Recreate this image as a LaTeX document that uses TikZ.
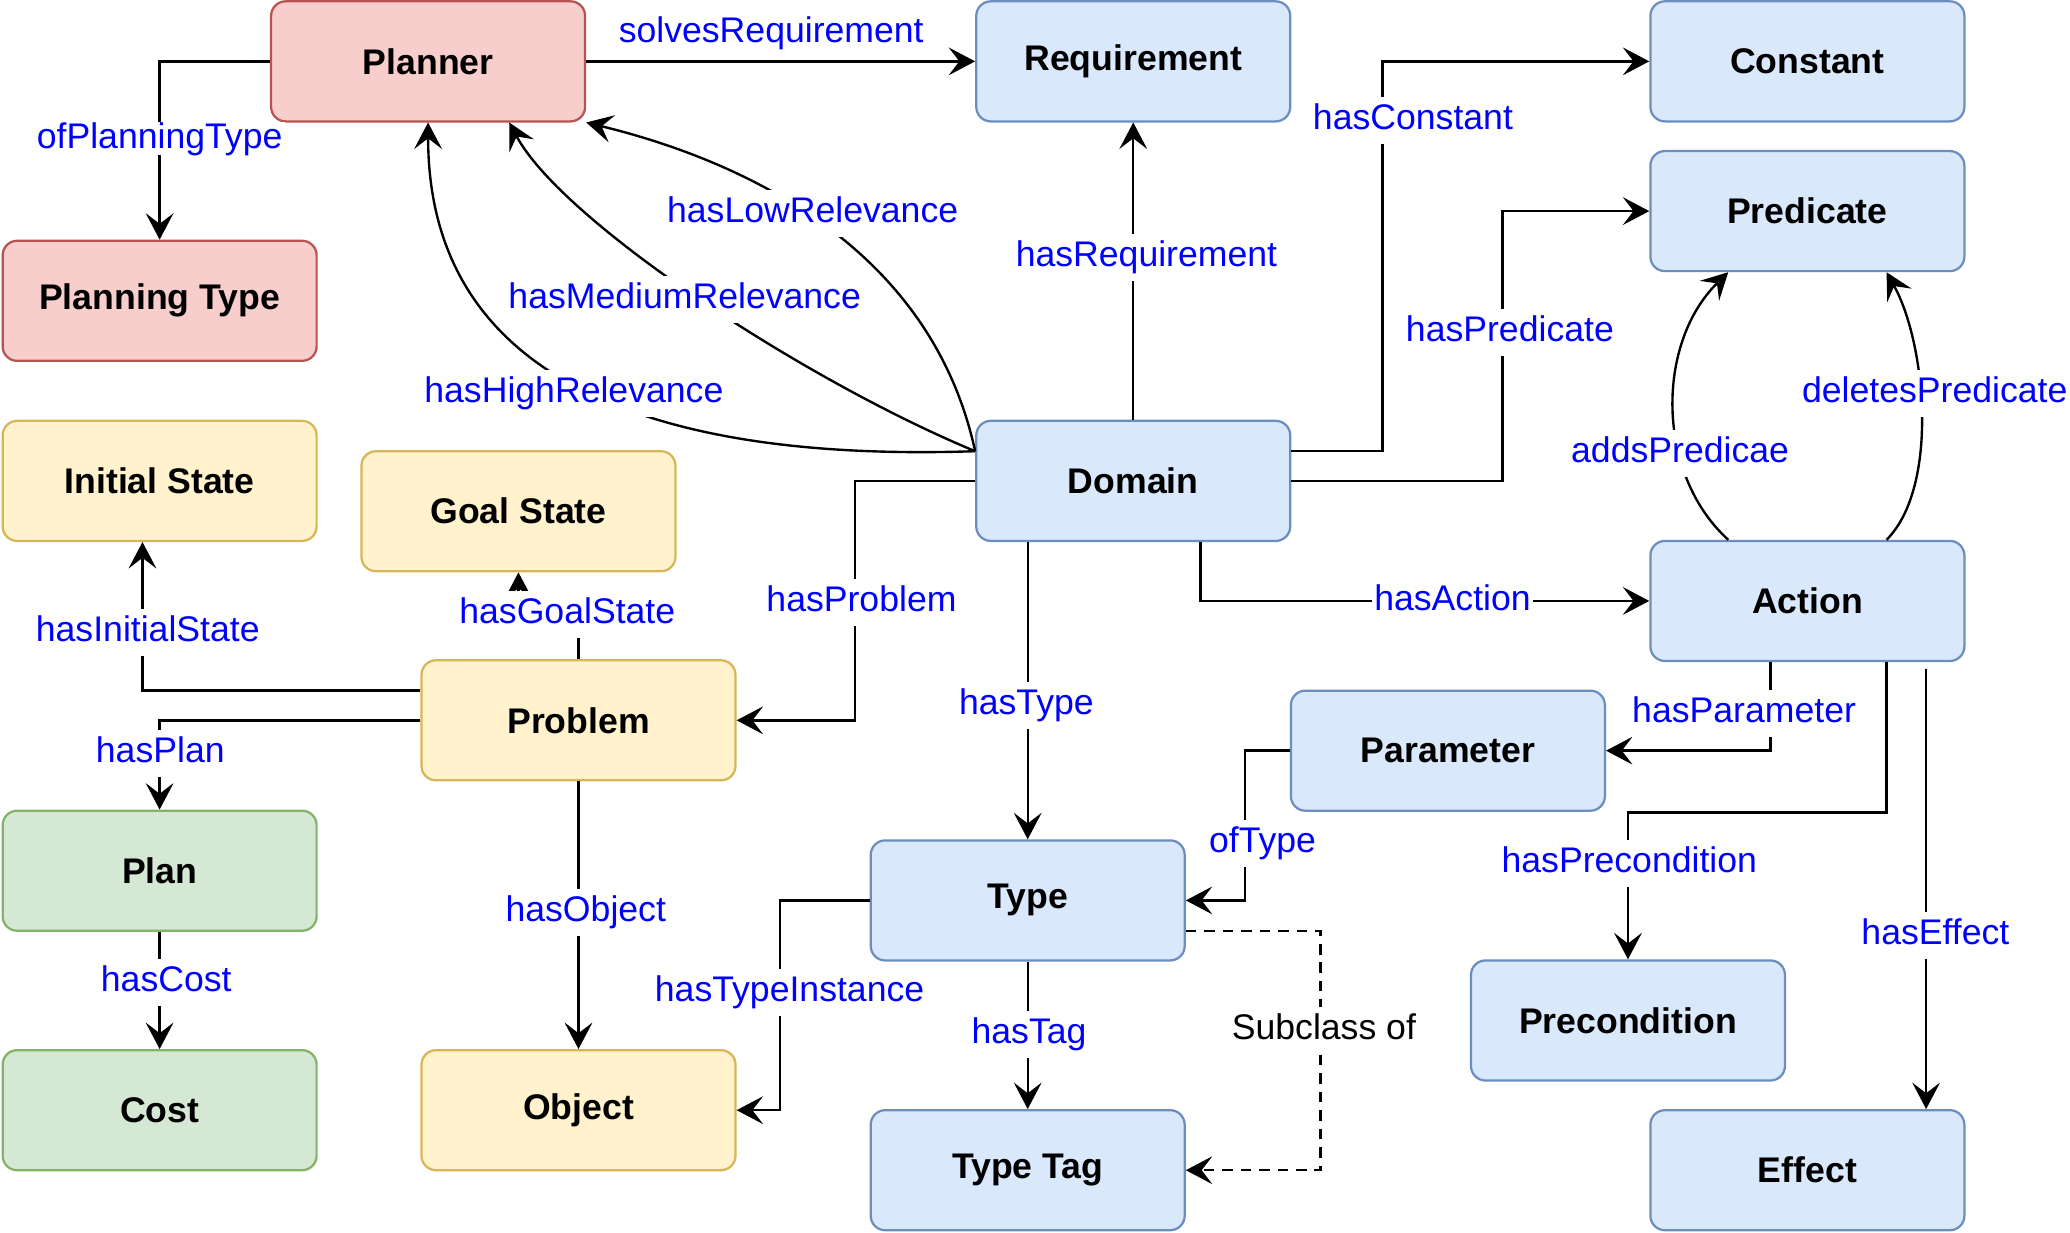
\documentclass[tikz,border=0pt]{standalone}
\usepackage{fontspec}
\setmainfont{Liberation Sans}
\usetikzlibrary{arrows.meta}

\definecolor{redfill}{HTML}{F8CECC}
\definecolor{redline}{HTML}{B85450}
\definecolor{bluefill}{HTML}{DAE8FC}
\definecolor{blueline}{HTML}{6C8EBF}
\definecolor{yellowfill}{HTML}{FFF2CC}
\definecolor{yellowline}{HTML}{D6B656}
\definecolor{greenfill}{HTML}{D5E8D4}
\definecolor{greenline}{HTML}{82B366}
\definecolor{relblue}{HTML}{0000FF}

\begin{document}
\begin{tikzpicture}[
    x=0.5pt, y=-0.5pt,
    concept/.style={
        rectangle,
        rounded corners=5.5pt,
        minimum width=119pt,
        minimum height=45.5pt,
        line width=0.85pt,
        font=\fontsize{13.5}{16}\selectfont\bfseries
    },
    redbox/.style={concept, fill=redfill, draw=redline},
    bluebox/.style={concept, fill=bluefill, draw=blueline},
    yellowbox/.style={concept, fill=yellowfill, draw=yellowline},
    greenbox/.style={concept, fill=greenfill, draw=greenline},
    rel/.style={
        fill=white,
        text=relblue,
        inner xsep=1pt,
        inner ysep=2.5pt,
        text height=9.8pt,
        text depth=3pt,
        font=\fontsize{13.5}{16}\selectfont
    },
    link/.style={
        -{Stealth[length=10pt,width=10.5pt,inset=4pt]},
        line width=0.9pt,
        draw=black
    }
]

% White page with the reference margins
\fill[white] (0,0) rectangle (1568,934);

% Planner side
\node[redbox] (planner) at (324.5,46.5) {Planner};
\node[redbox] (ptype) at (121,228) {Planning Type};

% Domain side
\node[bluebox] (req) at (859,46.5) {Requirement};
\node[bluebox] (const) at (1370,46.5) {Constant};
\node[bluebox] (pred) at (1370,160) {Predicate};
\node[bluebox] (domain) at (859,364.5) {Domain};
\node[bluebox] (action) at (1370,455.5) {Action};
\node[bluebox] (param) at (1097.5,569) {Parameter};
\node[bluebox] (type) at (779,682.5) {Type};
\node[bluebox] (precond) at (1234,773.5) {Precondition};
\node[bluebox] (typetag) at (779,887) {Type Tag};
\node[bluebox] (effect) at (1370,887) {Effect};

% Problem side
\node[yellowbox] (init) at (121,364.5) {Initial State};
\node[yellowbox] (goal) at (393,387.5) {Goal State};
\node[yellowbox] (problem) at (438.5,546) {Problem};
\node[yellowbox] (object) at (438.5,841.5) {Object};

% Plan side
\node[greenbox] (plan) at (121,660) {Plan};
\node[greenbox] (cost) at (121,841.5) {Cost};

% Planner relations
\draw[link] (planner.east) -- (req.west);
\draw[link] (planner.west) -| (ptype.north);

% Domain relations
\draw[link] (domain.north) -- (req.south);
\draw[link] ([yshift=11.25pt]domain.east) -- ++(69,0) |- (const.west);
\draw[link] (domain.east) -- ++(160,0) |- (pred.west);
\draw[link] ([yshift=11.25pt]domain.west) .. controls +(-130,-54) and +(40,75) .. ([xshift=30.75pt]planner.south);
\draw[link] ([yshift=11.25pt]domain.west) .. controls +(-34,-157) and +(115,28) .. (planner.south east);
\draw[link] ([yshift=11.25pt]domain.west) .. controls +(-239,8) and +(0,198) .. (planner.south);
\draw[link] (domain.west) -- ++(-91,0) |- (problem.east);
\draw[link] (type.north |- domain.south) -- (type.north);
\draw[link] ([xshift=25.5pt]domain.south) |- (action.west);

% Action relations
\draw[link] ([xshift=-30pt]action.north) .. controls +(-55,-50) and +(-55,54) .. ([xshift=-30pt]pred.south);
\draw[link] ([xshift=30pt]action.north) .. controls +(40,-40) and +(30,54) .. ([xshift=30pt]pred.south);
\draw[link] ([xshift=-14pt]action.south) |- (param.east);
\draw[link] ([xshift=30pt]action.south) -- ++(0,114) -| (precond.north);
\draw[link] ([xshift=45pt,yshift=-2.5pt]action.south) -- ([xshift=45pt]effect.north);

% Type relations
\draw[link] (param.west) -- ++(-34,0) |- (type.east);
\draw[link] (type.west) -- ++(-68,0) |- (object.east);
\draw[link] (type.south) -- (typetag.north);
\draw[link, dash pattern=on 4pt off 3pt] ([yshift=-11.5pt]type.east) -- ++(102,0) |- (typetag.east);

% Problem relations
\draw[link] ([yshift=11.25pt]problem.west) -| ([xshift=-6.5pt]init.south);
\draw[link] (problem.north) -- ++(0,-35) -| (goal.south);
\draw[link] (problem.west) -| (plan.north);
\draw[link] (problem.south) -- (object.north);
\draw[link] (plan.south) -- (cost.north);

% Relation labels
\node[rel] (lsolves) at (584.6,25.7) {solvesRequirement};
\node[rel, inner ysep=0.5pt, text depth=2pt] (lptype) at (121,105) {ofPlanningType};
\node[rel] (lreq) at (869,195) {hasRequirement};
\node[rel] (lconst) at (1071,91) {hasConstant};
\node[rel] (lpred) at (1144.5,252) {hasPredicate};
\node[rel] (llow) at (616,161.5) {hasLowRelevance};
\node[rel] (lmed) at (519,227) {hasMediumRelevance};
\node[rel] (lhigh) at (435,298) {hasHighRelevance};
\node[rel] (lproblem) at (653,457) {hasProblem};
\node[rel] (ltype) at (778,534.5) {hasType};
\node[rel] (laction) at (1101,456) {hasAction};
\node[rel] (ladds) at (1273.5,343.5) {addsPredicae};
\node[rel] (ldeletes) at (1466.5,298) {deletesPredicate};
\node[rel] (lparam) at (1322,541) {hasParameter};
\node[rel] (lprecond) at (1235,654.5) {hasPrecondition};
\node[rel] (leffect) at (1467,709) {hasEffect};
\node[rel] (loftype) at (957,639) {ofType};
\node[rel] (linstance) at (598.5,752) {hasTypeInstance};
\node[rel] (ltag) at (780,784) {hasTag};
\node[rel, text=black] (lsubclass) at (1003.5,781) {Subclass of};
\node[rel] (linit) at (112,479.5) {hasInitialState};
\node[rel] (lgoal) at (430,466) {hasGoalState};
\node[rel] (lplan) at (121.5,571) {hasPlan};
\node[rel] (lobject) at (444,691.5) {hasObject};
\node[rel] (lcost) at (126,745) {hasCost};

\end{tikzpicture}
\end{document}
